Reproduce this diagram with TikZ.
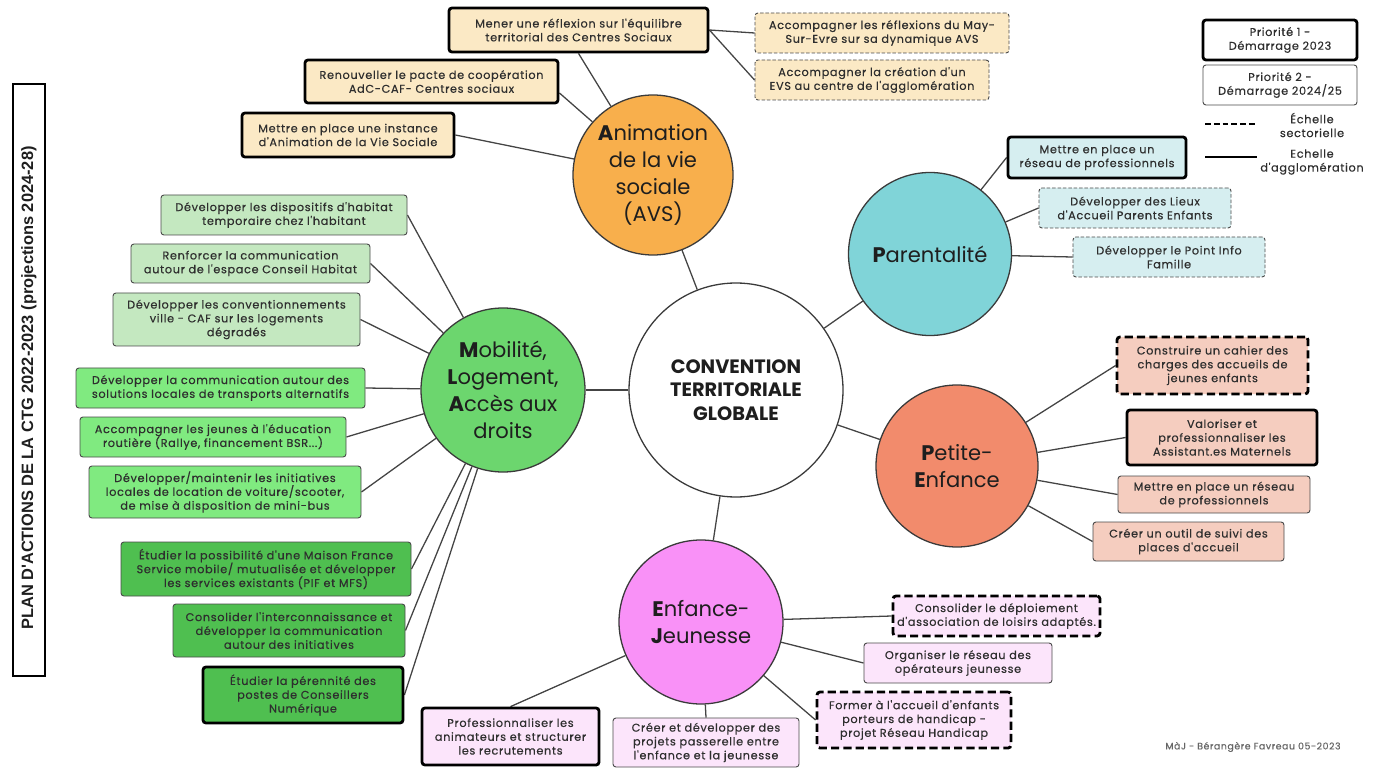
\documentclass[tikz,border=0pt]{standalone}
\usepackage{fontspec}
\setmainfont{Poppins}
\newfontfamily\titlefont{Liberation Sans}
\newfontfamily\bxfont[LetterSpace=6,FakeBold=0.4]{Poppins}
\usetikzlibrary{backgrounds,calc}

\definecolor{hubline}{HTML}{3A3A3A}
\definecolor{hubtext}{HTML}{1E1E1E}
\definecolor{linkc}{HTML}{444444}
\definecolor{thinline}{HTML}{4A4A4A}
\definecolor{boxtext}{HTML}{2E2E2E}
\definecolor{avsc}{HTML}{F8AF4C}
\definecolor{parc}{HTML}{80D4D8}
\definecolor{mobc}{HTML}{6CD66E}
\definecolor{pec}{HTML}{F28B6C}
\definecolor{ejc}{HTML}{F991F7}
\definecolor{avsf}{HTML}{FBE9C5}
\definecolor{parf}{HTML}{D6EEF0}
\definecolor{pef}{HTML}{F5CDBF}
\definecolor{ejf}{HTML}{FCE5FB}
\definecolor{mobf1}{HTML}{C4E8C0}
\definecolor{mobf2}{HTML}{80EA80}
\definecolor{mobf3}{HTML}{4FBF50}

\tikzset{
  hub/.style={circle, draw=hubline, line width=1.1pt, minimum size=#1*0.03cm,
    inner sep=0pt, align=center, text=hubtext, font=\fontsize{18}{23}\selectfont},
  bx/.style={rectangle, rounded corners=2.5pt, align=center, inner sep=1pt,
    draw=thinline, line width=0.8pt, text=boxtext,
    font=\bxfont\fontsize{9.6}{11.8}\selectfont},
  prio/.style={line width=2.4pt, draw=black},
  sect/.style={dash pattern=on 3pt off 1.6pt},
  sectb/.style={line width=2.4pt, draw=black, dash pattern=on 7pt off 3.5pt},
  link/.style={draw=linkc, line width=1.1pt},
}
\newcommand\mybox[7]{\node[bx,#6,minimum width={(#4-#2)*0.03cm},minimum height={(#5-#3)*0.03cm}] (#1) at ({(#2+#4)/2},{(#3+#5)/2}) {#7};}

\begin{document}
\begin{tikzpicture}[x=0.03cm,y=-0.03cm]
\useasboundingbox (0,0) rectangle (1381,769);

% title
\node[draw=black, line width=1.6pt, minimum width=32*0.03cm, minimum height=592*0.03cm,
  inner sep=0pt] (title) at (29,380) {};
\node[rotate=90, inner sep=0pt, font=\titlefont\bfseries\fontsize{14}{14}\selectfont, text=hubtext]
  (titletext) at (29,388) {PLAN D'ACTIONS DE LA CTG 2022-2023 (projections 2024-28)};

% hubs
\node[hub=214, fill=white, font=\bfseries\fontsize{16.5}{20}\selectfont] (ctg) at (736,390) {CONVENTION\\TERRITORIALE\\GLOBALE};
\node[hub=160, fill=avsc] (avs) at (653,175) {\textbf{A}nimation\\de la vie\\sociale\\(AVS)};
\node[hub=163, fill=parc] (par) at (930,254) {\textbf{P}arentalité};
\node[hub=164, fill=mobc] (mob) at (503,390) {\textbf{M}obilité,\\\textbf{L}ogement,\\\textbf{A}ccès aux\\droits};
\node[hub=162, fill=pec] (pe) at (957,466) {\textbf{P}etite-\\\textbf{E}nfance};
\node[hub=164, fill=ejc] (ej) at (701,622) {\textbf{E}nfance-\\\textbf{J}eunesse};

% AVS boxes
\mybox{a1}{449}{8}{708}{52}{fill=avsf,prio}{Mener une réflexion sur l'équilibre\\territorial des Centres Sociaux}
\mybox{a2}{305}{60}{558}{103}{fill=avsf,prio}{Renouveller le pacte de coopération\\AdC-CAF- Centres sociaux}
\mybox{a3}{242}{113}{454}{157}{fill=avsf,prio}{Mettre en place une instance\\d'Animation de la Vie Sociale}
\mybox{a4}{755}{13}{1009}{53}{fill=avsf,sect}{Accompagner les réflexions du May-\\Sur-Evre sur sa dynamique AVS}
\mybox{a5}{755}{60}{989}{100}{fill=avsf,sect}{Accompagner la création d'un\\EVS au centre de l'agglomération}

% Parentalite boxes
\mybox{p1}{1008}{137}{1186}{178}{fill=parf,prio}{Mettre en place un\\réseau de professionnels}
\mybox{p2}{1039}{188}{1231}{228}{fill=parf,sect}{Développer des Lieux\\d'Accueil Parents Enfants}
\mybox{p3}{1073}{237}{1265}{277}{fill=parf,sect}{Développer le Point Info\\Famille}

% Petite enfance boxes
\mybox{e1}{1117}{337}{1308}{394}{fill=pef,sectb}{Construire un cahier des\\charges des accueils de\\jeunes enfants}
\mybox{e2}{1127}{410}{1317}{465}{fill=pef,prio}{Valoriser et\\professionnaliser les\\Assistant.es Maternels}
\mybox{e3}{1118}{476}{1310}{513}{fill=pef}{Mettre en place un réseau\\de professionnels}
\mybox{e4}{1093}{522}{1284}{561}{fill=pef}{Créer un outil de suivi des\\places d'accueil}

% Enfance jeunesse boxes
\mybox{j1}{893}{596}{1100}{636}{fill=ejf,sectb}{Consolider le déploiement\\d'association de loisirs adaptés.}
\mybox{j2}{864}{643}{1052}{683}{fill=ejf}{Organiser le réseau des\\opérateurs jeunesse}
\mybox{j3}{817}{692}{1011}{748}{fill=ejf,sectb}{Former à l'accueil d'enfants\\porteurs de handicap -\\projet Réseau Handicap}
\mybox{j4}{613}{718}{799}{767}{fill=ejf}{Créer et développer des\\projets passerelle entre\\l'enfance et la jeunesse}
\mybox{j5}{422}{708}{599}{765}{fill=ejf,prio}{Professionnaliser les\\animateurs et structurer\\les recrutements}

% Mobilite boxes
\mybox{m1}{161}{195}{407}{235}{fill=mobf1}{Développer les dispositifs d'habitat\\temporaire chez l'habitant}
\mybox{m2}{131}{244}{370}{283}{fill=mobf1}{Renforcer la communication\\autour de l'espace Conseil Habitat}
\mybox{m3}{113}{293}{360}{346}{fill=mobf1}{Développer les conventionnements\\ville - CAF sur les logements\\dégradés}
\mybox{m4}{76}{368}{365}{408}{fill=mobf2}{Développer la communication autour des\\solutions locales de transports alternatifs}
\mybox{m5}{80}{417}{346}{457}{fill=mobf2}{Accompagner les jeunes à l'éducation\\routière (Rallye, financement BSR...)}
\mybox{m6}{89}{466}{361}{518}{fill=mobf2}{Développer/maintenir les initiatives\\locales de location de voiture/scooter,\\de mise à disposition de mini-bus}
\mybox{m7}{121}{542}{411}{596}{fill=mobf3}{Étudier la possibilité d'une Maison France\\Service mobile/ mutualisée et développer\\les services existants (PIF et MFS)}
\mybox{m8}{173}{604}{405}{657}{fill=mobf3}{Consolider l'interconnaissance et\\développer la communication\\autour des initiatives}
\mybox{m9}{203}{667}{403}{723}{fill=mobf3,prio}{Étudier la pérennité des\\postes de Conseillers\\Numérique}

% legend
\mybox{lg1}{1203}{20}{1357}{60}{fill=white,prio}{Priorité 1 -\\Démarrage 2023}
\mybox{lg2}{1203}{65}{1357}{105}{fill=white}{Priorité 2 -\\Démarrage 2024/25}
\coordinate (ld1) at (1205,124);
\coordinate (ld2) at (1257,124);
\coordinate (ls1) at (1205,157);
\coordinate (ls2) at (1257,157);
\node[bx, draw=none, text=boxtext] (lgt1) at (1312,125) {Échelle\\sectorielle};
\node[bx, draw=none, text=boxtext] (lgt2) at (1312,162) {Echelle\\d'agglomération};
\draw[line width=1.5pt, dash pattern=on 5pt off 2.5pt] (ld1) -- (ld2);
\draw[line width=1.2pt] (ls1) -- (ls2);

% footer
\node[font=\bxfont\fontsize{8}{9}\selectfont, text=black!60] (foot) at (1253,747) {MàJ - Bérangère Favreau 05-2023};

% connectors
\begin{scope}[on background layer]
\draw[link] (ctg) -- (avs);
\draw[link] (ctg) -- (par);
\draw[link] (ctg) -- (mob);
\draw[link] (ctg) -- (pe);
\draw[link] (ctg) -- (ej);
\draw[link] (avs) -- (a1.south);
\draw[link] (avs) -- ($(a2.east)!0.5!(a2.south east)$);
\draw[link] (avs) -- (a3.east);
\draw[link] (a1.east) -- (a4.west);
\draw[link] (a1.east) -- (a5.west);
\draw[link] (par) -- (p1.west);
\draw[link] (par) -- (p2.west);
\draw[link] (par) -- (p3.west);
\draw[link] (pe) -- (e1.west);
\draw[link] (pe) -- (e2.west);
\draw[link] (pe) -- (e3.west);
\draw[link] (pe) -- (e4.west);
\draw[link] (ej) -- (j1.west);
\draw[link] (ej) -- (j2.west);
\draw[link] (ej) -- (j3.west);
\draw[link] (ej) -- (j4.north);
\draw[link] (ej) -- (j5.north);
\foreach \m in {m1,m2,m3,m4,m5,m6,m7,m8,m9}{\draw[link] (mob) -- (\m.east);}
\end{scope}
\end{tikzpicture}
\end{document}
